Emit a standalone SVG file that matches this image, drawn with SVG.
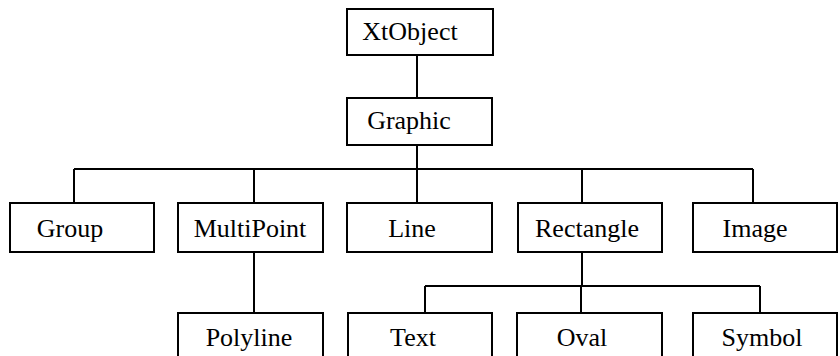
<svg xmlns="http://www.w3.org/2000/svg" width="840" height="356" viewBox="0 0 840 356">
<style>
.box{fill:#fff;stroke:#000;stroke-width:2}
text{font-family:'Liberation Serif','Times New Roman','DejaVu Serif',serif;font-size:26px;fill:#000;text-anchor:middle}
.conn{fill:none;stroke:#000;stroke-width:2}
</style>
<rect width="840" height="356" fill="#fff"/>
<g id="connectors" class="conn">
<path d="M417 55V98"/>
<path d="M417 145V169"/>
<path d="M74 169H753"/>
<path d="M74 169V203M254 169V203M417 169V203M582 169V203M753 169V203"/>
<path d="M254 252V313"/>
<path d="M582 252V286"/>
<path d="M425 286H760"/>
<path d="M425 286V313M581 286V313M760 286V313"/>
</g>
<g id="XtObject"><rect class="box" x="347" y="9" width="146" height="46"/><text x="410" y="40">XtObject</text></g>
<g id="Graphic"><rect class="box" x="347" y="98" width="145" height="47"/><text x="409" y="129">Graphic</text></g>
<g id="Group"><rect class="box" x="10" y="203" width="144" height="49"/><text x="70" y="237">Group</text></g>
<g id="MultiPoint"><rect class="box" x="178" y="203" width="145" height="49"/><text x="250" y="237">MultiPoint</text></g>
<g id="Line"><rect class="box" x="347" y="203" width="145" height="49"/><text x="412" y="237">Line</text></g>
<g id="Rectangle"><rect class="box" x="518" y="203" width="144" height="49"/><text x="587" y="237">Rectangle</text></g>
<g id="Image"><rect class="box" x="693" y="203" width="144" height="49"/><text x="755" y="237">Image</text></g>
<g id="Polyline"><rect class="box" x="178" y="313" width="145" height="50"/><text x="249" y="346">Polyline</text></g>
<g id="Text"><rect class="box" x="348" y="313" width="144" height="50"/><text x="413" y="346">Text</text></g>
<g id="Oval"><rect class="box" x="517" y="313" width="145" height="50"/><text x="582" y="346">Oval</text></g>
<g id="Symbol"><rect class="box" x="693" y="313" width="144" height="50"/><text x="762" y="346">Symbol</text></g>
</svg>
